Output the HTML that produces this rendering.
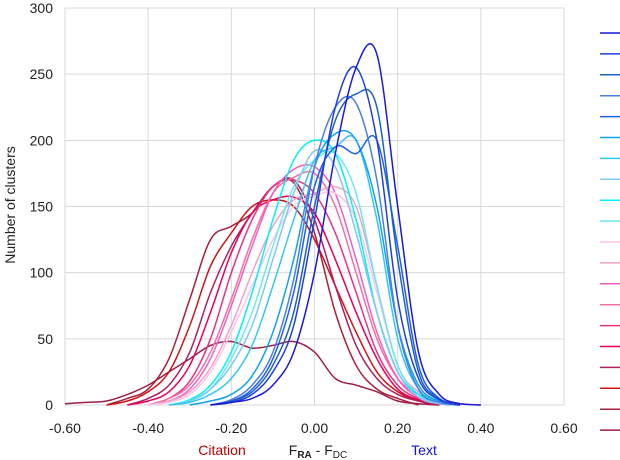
<!DOCTYPE html>
<html><head><meta charset="utf-8"><style>
body{margin:0;background:#fff;}
svg{display:block;font-family:"Liberation Sans",Arial,sans-serif;}
</style></head><body>
<svg id="c" width="620" height="460"></svg>
<script>
const xTicks=[-0.6,-0.4,-0.2,0,0.2,0.4,0.6];
const xTickLabels=["-0.60","-0.40","-0.20","0.00","0.20","0.40","0.60"];
const yTicks=[0,50,100,150,200,250,300];
const seriesColors=["#1a1ad8","#2040d8","#1e62c4","#4c7ee6","#1f5ff0","#10a2f0","#30c8ee","#80c8f0","#00f2f8","#6ae8f2","#ffc4ec","#f4a0c8","#f060c0","#f46ea4","#e83282","#e8005c","#b02062","#d01414","#a8203e","#9c1e4a"];
const seriesStart=[-0.25,-0.25,-0.25,-0.25,-0.25,-0.3,-0.35,-0.35,-0.35,-0.35,-0.4,-0.4,-0.4,-0.4,-0.4,-0.45,-0.45,-0.5,-0.5,-0.6];
const s1=[0,2,5,15,40,100,190,255,265,150,40,8,1,0];
const s2=[0,2,8,25,60,140,225,255,200,80,20,4,0];
const s3=[0,3,10,30,70,150,215,235,225,110,25,5,0];
const s4=[0,4,15,40,95,180,225,228,170,60,12,2,0];
const s5=[0,3,12,35,85,165,195,190,200,120,30,5,0];
const s6=[0,3,8,22,55,110,180,205,200,150,60,15,3,0];
const s7=[0,2,8,20,45,90,140,185,195,200,140,50,12,3,0];
const s8=[0,3,12,30,60,110,160,192,180,130,70,25,6,1,0];
const s9=[0,4,15,40,85,140,185,200,190,140,70,25,8,2,0];
const s10=[0,3,12,35,70,120,165,185,190,160,90,30,8,2,0];
const s11=[0,2,8,25,55,90,125,150,158,160,140,85,30,8,2,0];
const s12=[0,3,10,28,60,100,135,155,160,165,150,90,30,10,3,0];
const s13=[0,3,12,35,75,120,160,178,180,160,110,55,20,6,1,0];
const s14=[0,5,15,40,80,125,160,172,175,150,100,50,20,8,3,1,0];
const s15=[0,5,18,50,100,140,165,170,160,130,85,40,15,5,2,0];
const s16=[0,3,10,30,70,115,145,155,157,145,110,70,35,12,4,1,0];
const s17=[0,5,15,40,85,120,145,165,170,140,90,45,20,8,3,0];
const s18=[0,3,10,25,60,105,130,150,155,150,125,90,55,25,10,3,0];
const s19=[0,5,12,35,80,125,135,145,165,168,130,70,30,12,5,0];
const s20=[1,2,3,8,15,25,35,45,48,43,45,48,40,20,15,10,3,1,0];
const seriesValues=[s1,s2,s3,s4,s5,s6,s7,s8,s9,s10,s11,s12,s13,s14,s15,s16,s17,s18,s19,s20];
const step=0.05;

const NS="http://www.w3.org/2000/svg";
const svg=document.getElementById('c');
const X0=65,X1=564,Y0=405,Y1=8;
const xs=v=>X0+(v+0.6)/1.2*(X1-X0);
const ys=v=>Y0-v/300*(Y0-Y1);
function mk(t,a,p){const e=document.createElementNS(NS,t);for(const k in a)e.setAttribute(k,a[k]);(p||svg).appendChild(e);return e;}

const frame=mk('rect',{x:X0,y:Y1,width:X1-X0,height:Y0-Y1,fill:'none',stroke:'#d9d9d9','stroke-width':1});


xTicks.forEach((t,i)=>{
  if(i>0&&i<xTicks.length-1){const g=mk('line',{x1:xs(t),x2:xs(t),y1:Y1,y2:Y0,stroke:'#d9d9d9'});
  
  }
  const l=mk('text',{x:xs(t),y:433,'font-size':14,'text-anchor':'middle',fill:'#222'});l.textContent=xTickLabels[i];
  
  
});
yTicks.forEach(t=>{
  if(t>0&&t<300){const g=mk('line',{x1:X0,x2:X1,y1:ys(t),y2:ys(t),stroke:'#d9d9d9'});
  
  }
  const l=mk('text',{x:53,y:ys(t)+5,'font-size':14,'text-anchor':'end',fill:'#222'});l.textContent=t;
  
  
});
const yt=mk('text',{x:15,y:205,'font-size':14,'text-anchor':'middle',fill:'#222',transform:'rotate(-90 15 205)'});
yt.textContent='Number of clusters';



function pathFor(start,vals){
  const p=vals.map((v,i)=>[xs(start+i*step),ys(v)]);
  let d='M'+p[0][0].toFixed(1)+','+p[0][1].toFixed(1);
  for(let i=0;i<p.length-1;i++){
    const a=p[i-1]||p[i],b=p[i],c=p[i+1],e=p[i+2]||c;
    const c1=[b[0]+(c[0]-a[0])/6,Math.min(Y0,b[1]+(c[1]-a[1])/6)];
    const c2=[c[0]-(e[0]-b[0])/6,Math.min(Y0,c[1]-(e[1]-b[1])/6)];
    d+='C'+c1[0].toFixed(1)+','+c1[1].toFixed(1)+' '+c2[0].toFixed(1)+','+c2[1].toFixed(1)+' '+c[0].toFixed(1)+','+c[1].toFixed(1);
  }
  return d;
}
for(let k=seriesValues.length-1;k>=0;k--){
  const pa=mk('path',{d:pathFor(seriesStart[k],seriesValues[k]),fill:'none',stroke:seriesColors[k],'stroke-width':1.5});
  
  
}
seriesColors.forEach((c,k)=>{
  const y=33+k*20.9;
  const l=mk('line',{x1:600,x2:620,y1:y,y2:y,stroke:c,'stroke-width':1.5});
  
  
});
const cit=mk('text',{x:222,y:455,'font-size':14,'text-anchor':'middle',fill:'#c00000'});cit.textContent='Citation';


const tx=mk('text',{x:424,y:455,'font-size':14,'text-anchor':'middle',fill:'#1010e0'});tx.textContent='Text';


const xt=mk('text',{x:318,y:455,'font-size':14,'text-anchor':'middle',fill:'#222'});
xt.innerHTML='F<tspan font-size="10" font-weight="bold" dy="3">RA</tspan><tspan dy="-3"> - F</tspan><tspan font-size="10" dy="3">DC</tspan>';


</script>
</body></html>
